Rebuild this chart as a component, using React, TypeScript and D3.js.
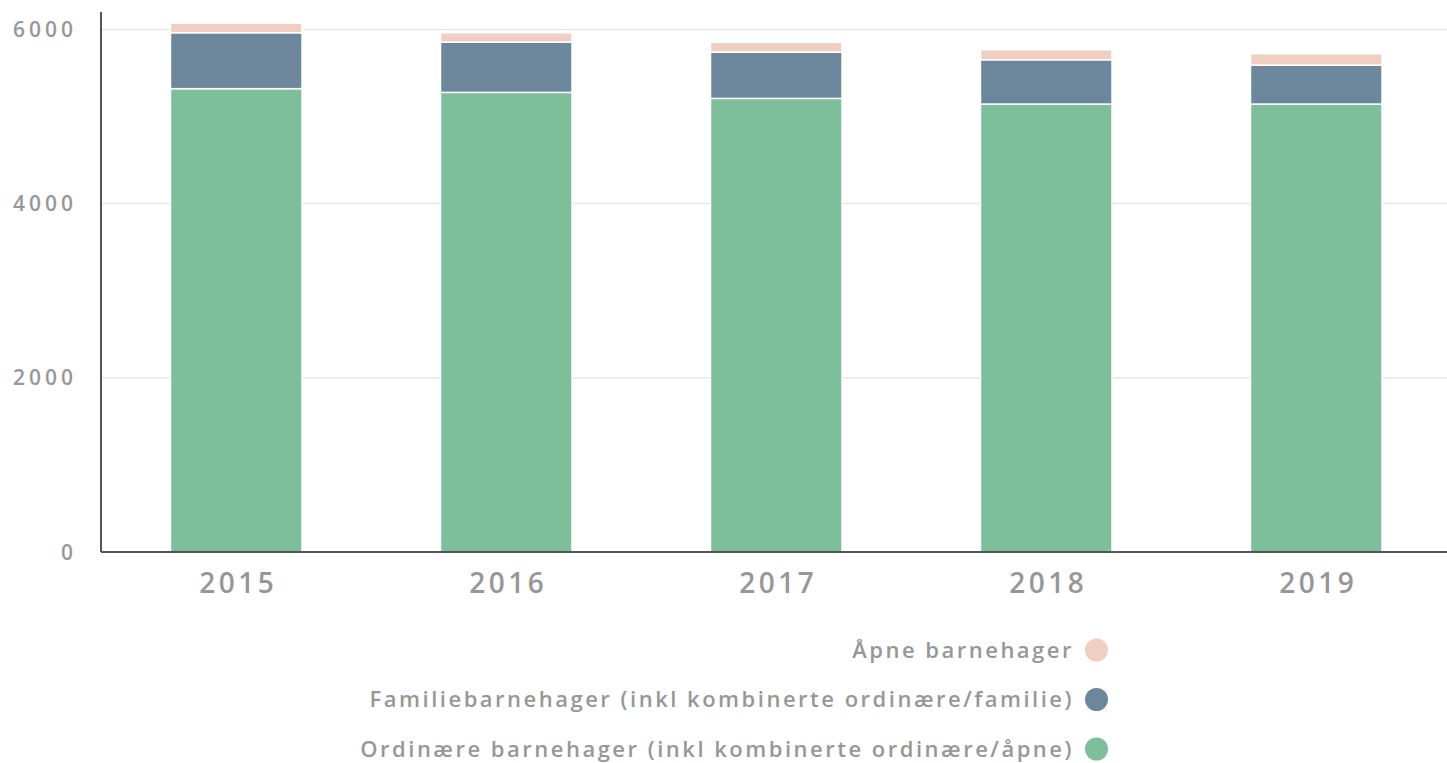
import React from "react";
import * as d3 from "d3";

const years = ["2015", "2016", "2017", "2018", "2019"];
const ordinaere = [5320, 5277, 5208, 5143, 5143];
const familie = [642, 577, 532, 509, 447];
const aapne = [110, 108, 111, 115, 131];
const yTicks = [0, 2000, 4000, 6000];

const seriesNames = [
  "Ordinære barnehager (inkl kombinerte ordinære/åpne)",
  "Familiebarnehager (inkl kombinerte ordinære/familie)",
  "Åpne barnehager",
];
const colors = ["#7dbe9b", "#6c869b", "#f0cec1"];

const W = 1447;
const H = 763;
const left = 101;
const right = 1451.5;
const top = 12;
const bottom = 552;
const font = "'Open Sans', 'DejaVu Sans', sans-serif";
const textColor = "#979797";

export default function App() {
  const x = d3
    .scaleBand<string>()
    .domain(years)
    .range([left, right])
    .paddingInner(138.5 / 270)
    .paddingOuter(69.5 / 270);
  const y = d3.scaleLinear().domain([0, 6200]).range([bottom, top]);

  const rows = years.map((yr, i) => ({ year: yr, o: ordinaere[i], f: familie[i], a: aapne[i] }));
  const stack = d3.stack<any>().keys(["o", "f", "a"]);
  const stacked = stack(rows);

  const legendOrder = [2, 1, 0];

  return (
    <svg width={W} height={H} style={{ position: "absolute", left: 0, top: 0 }}>
      {yTicks.filter((t) => t > 0).map((t) => (
        <line key={t} x1={left} x2={W} y1={y(t)} y2={y(t)} stroke="#e6e6e6" strokeWidth={1.5} />
      ))}
      {stacked.map((s, si) => (
        <g key={si} fill={colors[si]}>
          {s.map((d, i) => (
            <rect
              key={i}
              x={x(years[i])!}
              y={y(d[1])}
              width={x.bandwidth()}
              height={y(d[0]) - y(d[1])}
              stroke="#ffffff"
              strokeWidth={1.5}
            />
          ))}
        </g>
      ))}
      <line x1={left} x2={left} y1={top} y2={bottom} stroke="#555" strokeWidth={2} />
      <line x1={left} x2={W} y1={bottom} y2={bottom} stroke="#555" strokeWidth={2} />
      {yTicks.map((t) => (
        <text
          key={t}
          x={77}
          y={y(t)}
          dy="0.36em"
          textAnchor="end"
          fontFamily={font}
          fontWeight={600}
          fontSize={21}
          letterSpacing={4}
          fill={textColor}
        >
          {t}
        </text>
      ))}
      {years.map((yr) => (
        <text
          key={yr}
          x={x(yr)! + x.bandwidth() / 2 + 2}
          y={593}
          textAnchor="middle"
          fontFamily={font}
          fontWeight={600}
          fontSize={28}
          letterSpacing={3.5}
          fill={textColor}
        >
          {yr}
        </text>
      ))}
      {legendOrder.map((si, k) => {
        const cy = 650 + k * 49.5;
        return (
          <g key={si}>
            <circle cx={1096.5} cy={cy} r={11.5} fill={colors[si]} />
            <text
              x={1074}
              y={cy}
              dy="0.35em"
              textAnchor="end"
              fontFamily={font}
              fontWeight={600}
              fontSize={22}
              letterSpacing={2.5}
              fill={textColor}
            >
              {seriesNames[si]}
            </text>
          </g>
        );
      })}
    </svg>
  );
}
